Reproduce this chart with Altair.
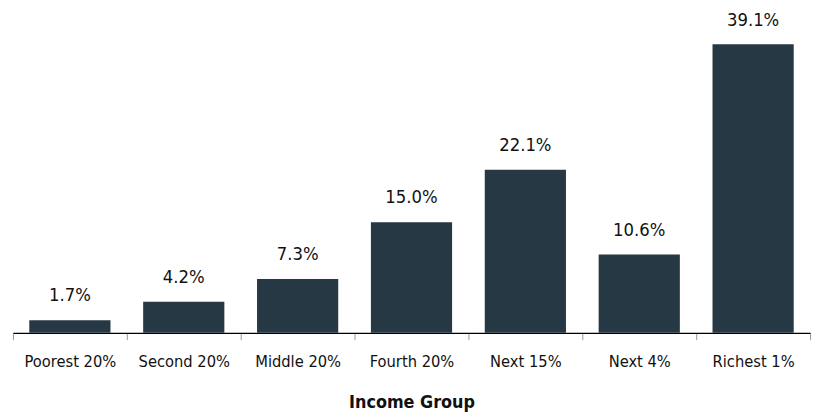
import altair as alt
import pandas as pd

groups = ["Poorest 20%", "Second 20%", "Middle 20%", "Fourth 20%", "Next 15%", "Next 4%", "Richest 1%"]
shares = [1.7, 4.2, 7.3, 15.0, 22.1, 10.6, 39.1]
labels = ["1.7%", "4.2%", "7.3%", "15.0%", "22.1%", "10.6%", "39.1%"]

df = pd.DataFrame({"group": groups, "share": shares, "label": labels})

FONT = "DejaVu Sans Condensed"
BAR = "#253843"

x = alt.X("group:N", sort=groups, title="Income Group",
          scale=alt.Scale(paddingInner=0, paddingOuter=0),
          axis=alt.Axis(labelAngle=0, tickBand="extent", tickSize=7, tickColor="#999999",
                        domainColor="#000000", domainWidth=1.2,
                        labelFont=FONT, labelFontSize=16.5, labelColor="#111111", labelPadding=14,
                        titleFont=FONT, titleFontSize=18, titleFontWeight="bold",
                        titleColor="#111111", titlePadding=24))
y = alt.Y("share:Q", scale=alt.Scale(domain=[0, 40], nice=False), axis=None)

bars = alt.Chart(df).mark_bar(color=BAR, width=alt.RelativeBandSize(0.713)).encode(x=x, y=y)
text = alt.Chart(df).mark_text(font=FONT, fontSize=18.5, color="#111111", baseline="bottom", dy=-15).encode(
    x=alt.X("group:N", sort=groups), y=y, text="label:N")

chart = alt.layer(bars, text).properties(
    width=805, height=298,
    autosize=alt.AutoSizeParams(type="none"),
    padding={"left": 5, "top": 28, "right": 5, "bottom": 80},
).configure_view(stroke=None)

chart.save("out.html", embed_options={"renderer": "svg", "actions": False})
